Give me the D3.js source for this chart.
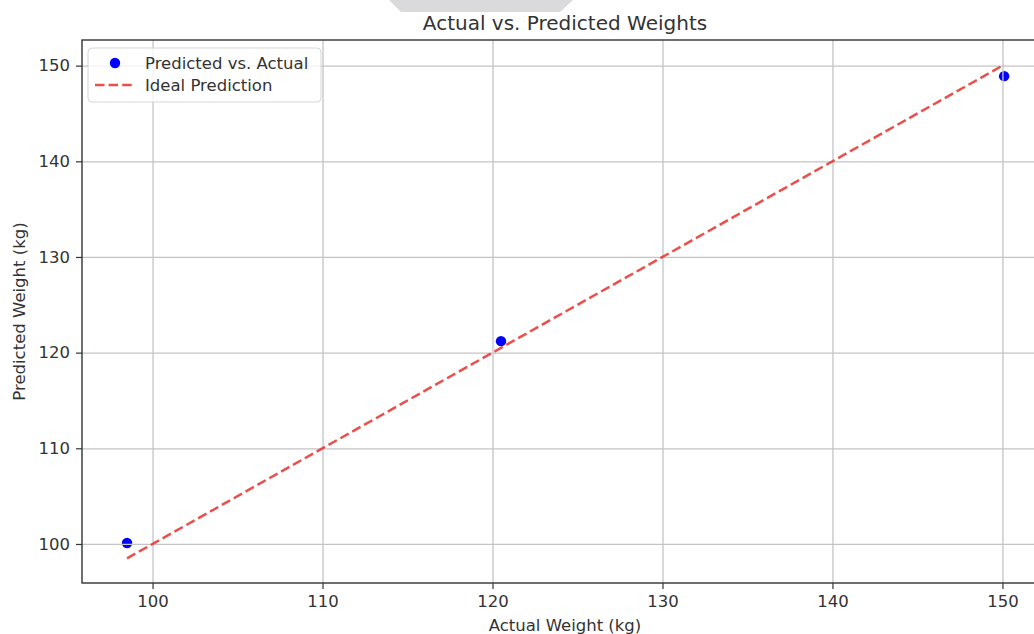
<!DOCTYPE html>
<html>
<head>
<meta charset="utf-8">
<script src="https://cdn.jsdelivr.net/npm/d3@7"></script>
<style>
	body { margin: 0; background: #fff; }
	svg { display: block; font-family: "DejaVu Sans", sans-serif; }
</style>
</head>
<body>
<svg id="chart" width="1034" height="634"></svg>
<script>
// values
var actualWeights = [98.5, 120.5, 150.1];
var predictedWeights = [100.1, 121.2, 148.9];
var xTicks = [100, 110, 120, 130, 140, 150];
var yTicks = [100, 110, 120, 130, 140, 150];
var seriesNames = ['Predicted vs. Actual', 'Ideal Prediction'];
var titleText = 'Actual vs. Predicted Weights';
var xLabel = 'Actual Weight (kg)';
var yLabel = 'Predicted Weight (kg)';

var svg = d3.select('#chart'),
	margin = {top: 40, left: 82, bottom: 583, right: 1048};

// gray tab at the top edge of the screenshot
svg.append('path')
	.attr('d', 'M389,0 L573,0 L560,12 L401,12 Z')
	.attr('fill', '#dadadc');

var points = actualWeights.map(function(a, i) { return {x: a, y: predictedWeights[i]}; });
var ext = d3.extent(actualWeights);
var ideal = [{x: ext[0], y: ext[0]}, {x: ext[1], y: ext[1]}];

// matplotlib style 5% padding
var lo = Math.min(ext[0], d3.min(predictedWeights)),
	hi = Math.max(ext[1], d3.max(predictedWeights)),
	pad = (hi - lo) * 0.05;

var x = d3.scaleLinear().domain([ext[0] - (ext[1] - ext[0]) * 0.05 - 0.07, ext[1] + (ext[1] - ext[0]) * 0.05])
	.range([margin.left, margin.right]);
var y = d3.scaleLinear().domain([lo - pad, hi + pad])
	.range([margin.bottom, margin.top]);

var plot = svg.append('g');

// scatter sits under the grid in matplotlib
plot.selectAll('circle.pt')
	.data(points)
	.enter().append('circle')
	.attr('class', 'pt')
	.attr('cx', function(d) { return x(d.x); })
	.attr('cy', function(d) { return y(d.y); })
	.attr('r', 5.2)
	.attr('fill', '#0000ff');

// grid
plot.append('g')
	.attr('transform', 'translate(0,' + margin.bottom + ')')
	.call(d3.axisBottom(x).tickValues(xTicks).tickSize(margin.top - margin.bottom).tickFormat(''))
	.call(function(g) {
		g.select('.domain').remove();
		g.selectAll('line').attr('stroke', '#c4c4c4').attr('stroke-width', 1.3);
	});
plot.append('g')
	.attr('transform', 'translate(' + margin.left + ',0)')
	.call(d3.axisLeft(y).tickValues(yTicks).tickSize(margin.left - margin.right).tickFormat(''))
	.call(function(g) {
		g.select('.domain').remove();
		g.selectAll('line').attr('stroke', '#c4c4c4').attr('stroke-width', 1.3);
	});

// ideal line
var line = d3.line()
	.x(function(d) { return x(d.x); })
	.y(function(d) { return y(d.y); });

plot.append('path')
	.datum(ideal)
	.attr('fill', 'none')
	.attr('stroke', '#e8302c')
	.attr('stroke-opacity', 0.85)
	.attr('stroke-width', 2.5)
	.attr('stroke-dasharray', '9.5,4.1')
	.attr('d', line);

// spines
svg.append('rect')
	.attr('x', margin.left)
	.attr('y', margin.top)
	.attr('width', margin.right - margin.left)
	.attr('height', margin.bottom - margin.top)
	.attr('fill', 'none')
	.attr('stroke', '#333')
	.attr('stroke-width', 1.4);

// axes
var xAxis = svg.append('g')
	.attr('transform', 'translate(0,' + margin.bottom + ')')
	.call(d3.axisBottom(x).tickValues(xTicks).tickSize(6).tickPadding(6).tickFormat(d3.format('d')));
var yAxis = svg.append('g')
	.attr('transform', 'translate(' + margin.left + ',0)')
	.call(d3.axisLeft(y).tickValues(yTicks).tickSize(6).tickPadding(6).tickFormat(d3.format('d')));

[xAxis, yAxis].forEach(function(a) {
	a.select('.domain').remove();
	a.selectAll('line').attr('stroke', '#333').attr('stroke-width', 1.2);
	a.selectAll('text')
		.attr('fill', '#333')
		.style('font-family', '"DejaVu Sans", sans-serif')
		.style('font-size', '16.5px');
});

// title and labels
svg.append('text')
	.attr('x', (margin.left + margin.right) / 2)
	.attr('y', 30)
	.attr('text-anchor', 'middle')
	.attr('fill', '#333')
	.style('font-size', '20px')
	.text(titleText);

svg.append('text')
	.attr('x', (margin.left + margin.right) / 2)
	.attr('y', 631)
	.attr('text-anchor', 'middle')
	.attr('fill', '#333')
	.style('font-size', '16.5px')
	.text(xLabel);

svg.append('text')
	.attr('transform', 'translate(25,' + ((margin.top + margin.bottom) / 2) + ') rotate(-90)')
	.attr('text-anchor', 'middle')
	.attr('fill', '#333')
	.style('font-size', '16.5px')
	.text(yLabel);

// legend
var legend = svg.append('g').attr('transform', 'translate(88,48)');

legend.append('rect')
	.attr('width', 233)
	.attr('height', 54)
	.attr('rx', 4)
	.attr('fill', '#fff')
	.attr('fill-opacity', 0.8)
	.attr('stroke', '#d6d6d6')
	.attr('stroke-width', 1);

legend.append('circle')
	.attr('cx', 27)
	.attr('cy', 15)
	.attr('r', 5.2)
	.attr('fill', '#0000ff');

legend.append('line')
	.attr('x1', 7)
	.attr('x2', 44)
	.attr('y1', 37)
	.attr('y2', 37)
	.attr('stroke', '#e8302c')
	.attr('stroke-opacity', 0.85)
	.attr('stroke-width', 2.5)
	.attr('stroke-dasharray', '9.5,4.1');

legend.selectAll('text.lbl')
	.data(seriesNames)
	.enter().append('text')
	.attr('class', 'lbl')
	.attr('x', 57)
	.attr('y', function(d, i) { return 21 + i * 22; })
	.attr('fill', '#333')
	.style('font-size', '16.5px')
	.text(function(d) { return d; });
</script>
</body>
</html>
